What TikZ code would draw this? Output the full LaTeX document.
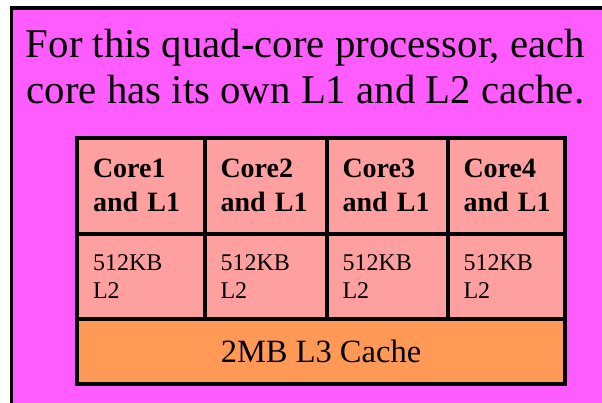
\documentclass[tikz,border=0pt]{standalone}
\usepackage{fontspec}
\setmainfont{Liberation Serif}
\usetikzlibrary{positioning}
\definecolor{slidepink}{HTML}{FF5CFF}
\definecolor{cachered}{HTML}{FFA0A0}
\definecolor{cacheorange}{HTML}{FF9955}
\tikzset{
  cell/.style={
    rectangle,
    draw=black,
    line width=4pt,
    outer sep=0pt,
    fill=cachered,
    inner xsep=16pt,
    inner ysep=0pt,
    align=left
  },
  core/.style={
    cell,
    text width=#1,
    minimum height=95.5pt,
    font=\fontsize{28}{34}\selectfont\bfseries
  },
  ltwo/.style={
    cell,
    text width=#1,
    minimum height=85.5pt,
    font=\fontsize{24}{28}\selectfont
  },
  lthree/.style={
    cell,
    fill=cacheorange,
    align=center,
    minimum width=488pt,
    minimum height=65pt,
    font=\fontsize{32.5}{38}\selectfont
  },
  slide/.style={draw=black, line width=3.5pt, fill=slidepink}
}

\begin{document}
\begin{tikzpicture}[x=1pt, y=-1pt]
  \useasboundingbox (0,0) rectangle (602,402);
  \clip (0,0) rectangle (602,402);
  \fill[white] (0,0) rectangle (602,402);
  \draw[slide] (11.5,8) rectangle (640,440);

  \node[align=center, inner sep=0pt, anchor=north, font=\fontsize{40.8}{46}\selectfont]
    (title) at (305.5,29.3) {For this quad-core processor, each\\core has its own L1 and L2 cache.};

  \node[core=95.5pt, anchor=north west] (core1) at (77,138) {Core1\\and~L1};
  \node[core=90pt, right=0pt of core1] (core2) {Core2\\and~L1};
  \node[core=89pt, right=0pt of core2] (core3) {Core3\\and~L1};
  \node[core=85.5pt, right=0pt of core3] (core4) {Core4\\and~L1};

  \node[ltwo=95.5pt, below=0pt of core1] (ltwoa) {512KB\\L2};
  \node[ltwo=90pt, below=0pt of core2] (ltwob) {512KB\\L2};
  \node[ltwo=89pt, below=0pt of core3] (ltwoc) {512KB\\L2};
  \node[ltwo=85.5pt, below=0pt of core4] (ltwod) {512KB\\L2};

  \node[lthree, below right=0pt and 0pt of ltwoa.south west] (lthree) {2MB L3 Cache};
\end{tikzpicture}
\end{document}
